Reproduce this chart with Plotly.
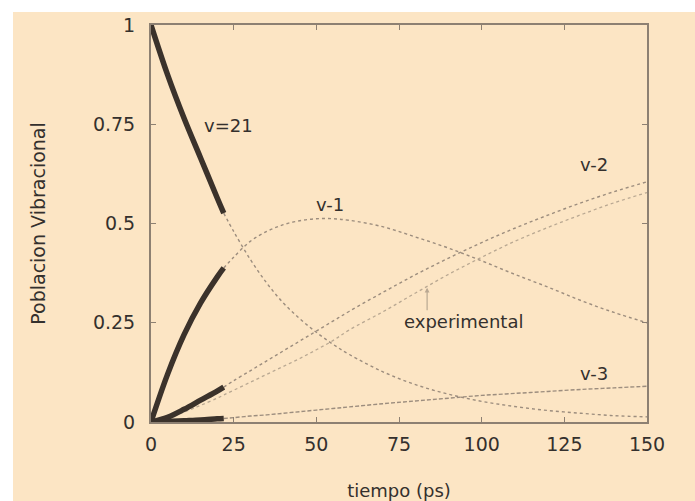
import plotly.graph_objects as go

# time grid (ps)
t = [0, 5, 10, 15, 20, 22, 25, 30, 35, 40, 45, 50, 55, 60, 70, 80, 90, 100, 110, 120, 130, 140, 150]

v21 = [1.0, 0.875, 0.765, 0.665, 0.565, 0.526, 0.48, 0.41, 0.35, 0.30, 0.26, 0.226, 0.196, 0.17, 0.127, 0.094, 0.07, 0.052, 0.039, 0.029, 0.022, 0.016, 0.013]
v1 = [0.0, 0.12, 0.22, 0.30, 0.365, 0.388, 0.415, 0.455, 0.48, 0.497, 0.507, 0.512, 0.512, 0.508, 0.492, 0.466, 0.438, 0.406, 0.372, 0.340, 0.306, 0.276, 0.25]
v2 = [0.0, 0.012, 0.032, 0.055, 0.078, 0.088, 0.104, 0.129, 0.154, 0.179, 0.204, 0.229, 0.254, 0.279, 0.326, 0.371, 0.413, 0.452, 0.488, 0.521, 0.552, 0.580, 0.605]
v3 = [0.0, 0.001, 0.003, 0.005, 0.008, 0.009, 0.011, 0.015, 0.018, 0.022, 0.026, 0.03, 0.034, 0.038, 0.046, 0.053, 0.06, 0.067, 0.072, 0.077, 0.082, 0.086, 0.09]
experimental = [0.0, 0.012, 0.025, 0.042, 0.06, 0.068, 0.08, 0.1, 0.12, 0.14, 0.16, 0.182, 0.205, 0.232, 0.277, 0.325, 0.372, 0.415, 0.455, 0.49, 0.522, 0.552, 0.578]

x_ticks = [0, 25, 50, 75, 100, 125, 150]
y_ticks = [0, 0.25, 0.5, 0.75, 1]
y_tick_labels = ["0", "0.25", "0.5", "0.75", "1"]

T_SPLIT = 22  # end of the thick (simulated) segment

CREAM = "#FCE5C4"
THICK = "#3b322b"
DOT = "#9c8d7e"
EXP = "#b9a892"
FRAME = "#8d8072"
TXT = "#34302d"
FONT = "DejaVu Sans, sans-serif"

fig = go.Figure()

idx_thick = [i for i, tv in enumerate(t) if tv <= T_SPLIT]
idx_dot = [i for i, tv in enumerate(t) if tv >= T_SPLIT]

def sub(arr, idx):
    return [arr[i] for i in idx]

# dotted continuations
for series, dash in [(v21, "dot"), (v1, "dot"), (v2, "dot"), (v3, "4px,2px")]:
    fig.add_trace(go.Scatter(x=sub(t, idx_dot), y=sub(series, idx_dot), mode="lines",
                             line=dict(color=DOT, width=1.4, dash=dash, shape="spline"),
                             hoverinfo="skip", showlegend=False))

# experimental curve
fig.add_trace(go.Scatter(x=t, y=experimental, mode="lines",
                         line=dict(color=EXP, width=1.3, dash="dot", shape="spline"),
                         hoverinfo="skip", showlegend=False))

# thick segments
for series in [v21, v1, v2, v3]:
    fig.add_trace(go.Scatter(x=sub(t, idx_thick), y=sub(series, idx_thick), mode="lines",
                             line=dict(color=THICK, width=5.5, shape="spline"),
                             hoverinfo="skip", showlegend=False))

ann_font = dict(family=FONT, size=18, color=TXT)
annotations = [
    dict(x=23.3, y=0.746, text="v=21"),
    dict(x=54, y=0.548, text="v-1"),
    dict(x=134, y=0.648, text="v-2"),
    dict(x=134, y=0.123, text="v-3"),
    dict(x=94.5, y=0.252, text="experimental"),
]
for a in annotations:
    fig.add_annotation(x=a["x"], y=a["y"], text=a["text"], showarrow=False,
                       font=ann_font, xanchor="center", yanchor="middle")

# small arrow pointing to the experimental curve
fig.add_annotation(x=83.5, y=0.338, ax=0, ay=24, text="", showarrow=True,
                   arrowhead=2, arrowsize=0.8, arrowwidth=1.2, arrowcolor=EXP)

# white border strips (top and left)
fig.add_shape(type="rect", xref="paper", yref="paper", x0=-0.31, x1=(13 - 151) / 496,
              y0=-0.25, y1=1.1, fillcolor="white", line=dict(width=0), layer="above")
fig.add_shape(type="rect", xref="paper", yref="paper", x0=-0.31, x1=1.2,
              y0=(422 - 12) / 397, y1=1.1, fillcolor="white", line=dict(width=0), layer="above")

axis_common = dict(showgrid=False, zeroline=False, showline=True, linecolor=FRAME,
                   linewidth=2, mirror="ticks", ticks="inside", ticklen=5,
                   tickcolor=FRAME, tickwidth=1.2, automargin=False,
                   tickfont=dict(family=FONT, size=19, color=TXT))

fig.update_layout(
    width=695, height=501,
    margin=dict(l=151, r=48, t=25, b=79),
    paper_bgcolor=CREAM, plot_bgcolor=CREAM,
    font=dict(family=FONT, color=TXT),
    xaxis=dict(range=[0, 150], tickvals=x_ticks, ticktext=[str(v) for v in x_ticks],
               ticklabelstandoff=4,
               title=dict(text="tiempo (ps)", font=dict(family=FONT, size=18, color=TXT), standoff=33),
               **axis_common),
    yaxis=dict(range=[0, 1], tickvals=y_ticks, ticktext=y_tick_labels,
               ticklabelstandoff=10,
               title=dict(text="Poblacion Vibracional", font=dict(family=FONT, size=19, color=TXT), standoff=42),
               **axis_common),
)

fig.write_html("out.html")
